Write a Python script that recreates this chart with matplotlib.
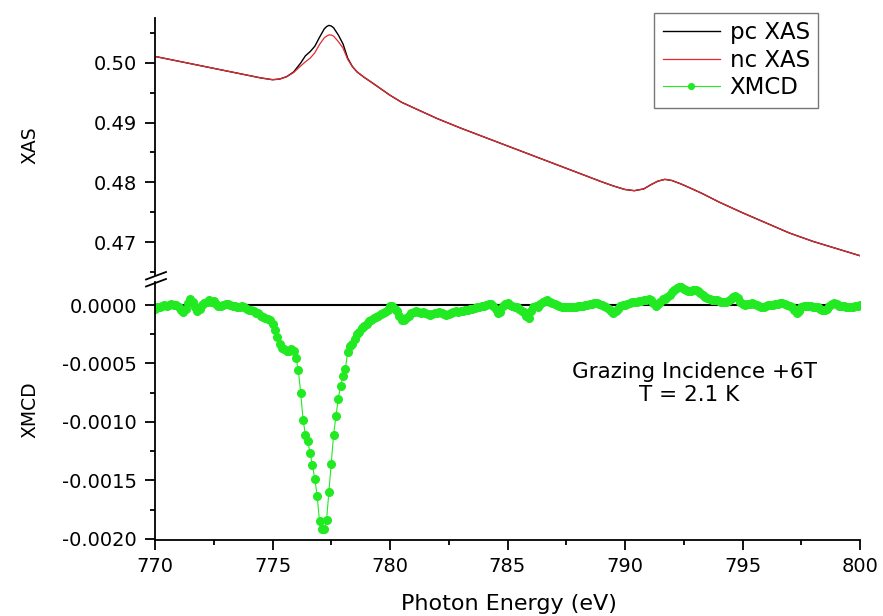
import numpy as np
import matplotlib
matplotlib.use("Agg")
import matplotlib.pyplot as plt
from matplotlib.ticker import MultipleLocator, FormatStrFormatter
from matplotlib.lines import Line2D

plt.rcParams['font.family'] = ['DejaVu Sans']
plt.rcParams['axes.unicode_minus'] = False

# XAS spectra (pc / nc circular polarisation)
e_xas = [770.0, 771.0, 772.0, 773.0, 774.0, 774.5, 775.0, 775.3, 775.6, 775.9,
         776.2, 776.4, 776.6, 776.8, 777.0, 777.2, 777.3, 777.4, 777.5, 777.6,
         777.8, 778.0, 778.2, 778.4, 778.6, 778.9, 779.2, 779.6, 780.0, 780.5,
         781.0, 782.0, 783.0, 784.0, 785.0, 786.0, 787.0, 788.0, 789.0, 789.5,
         790.0, 790.4, 790.8, 791.1, 791.4, 791.7, 792.0, 792.4, 792.8, 793.3,
         794.0, 795.0, 796.0, 797.0, 798.0, 799.0, 800.0]
pc_xas = [0.5011, 0.5003, 0.4995, 0.4987, 0.4979, 0.4975, 0.4972, 0.4973, 0.4977, 0.4985,
          0.5000, 0.5012, 0.5019, 0.5028, 0.5043, 0.5057, 0.5061, 0.5063, 0.5062, 0.5059,
          0.5047, 0.5032, 0.5008, 0.4994, 0.4985, 0.4976, 0.4968, 0.4957, 0.4946, 0.4934,
          0.4925, 0.4907, 0.4891, 0.4876, 0.4861, 0.4846, 0.4831, 0.4816, 0.4801, 0.4794,
          0.4788, 0.4786, 0.4789, 0.4796, 0.4802, 0.4805, 0.4803, 0.4797, 0.4790, 0.4781,
          0.4767, 0.4749, 0.4732, 0.4715, 0.4701, 0.4689, 0.4677]
nc_xas = [0.5011, 0.5003, 0.4995, 0.4987, 0.4979, 0.4975, 0.4972, 0.4973, 0.4977, 0.4984,
          0.4995, 0.5002, 0.5008, 0.5017, 0.5031, 0.5042, 0.5045, 0.5047, 0.5047, 0.5045,
          0.5036, 0.5025, 0.5006, 0.4994, 0.4985, 0.4976, 0.4968, 0.4957, 0.4946, 0.4934,
          0.4925, 0.4907, 0.4891, 0.4876, 0.4861, 0.4846, 0.4831, 0.4816, 0.4801, 0.4794,
          0.4788, 0.4786, 0.4789, 0.4796, 0.4802, 0.4805, 0.4803, 0.4797, 0.4790, 0.4781,
          0.4767, 0.4749, 0.4732, 0.4715, 0.4701, 0.4689, 0.4677]

# XMCD, 0.1 eV steps from 770 to 800 eV, in units of 1e-4
e_xmcd = np.round(np.arange(770.0, 800.05, 0.1), 1)
xmcd_1e4 = [
    -0.3, -0.2, -0.2, -0.1, 0.0, -0.1, 0.0, 0.1, 0.0, 0.0,
    -0.2, -0.4, -0.6, -0.3, 0.2, 0.5, 0.3, -0.2, -0.5, -0.3,
    0.0, 0.2, 0.3, 0.4, 0.3, 0.35, 0.1, -0.1, -0.1, 0.0,
    0.1, 0.1, 0.0, -0.1, -0.1, -0.2, -0.2, -0.1, -0.2, -0.3,
    -0.4, -0.4, -0.5, -0.7, -0.7, -0.9, -1.0, -1.1, -1.2, -1.3,
    -1.6, -2.1, -2.7, -3.3, -3.7, -3.8, -3.9, -3.9, -3.8, -3.9,
    -4.5, -5.6, -7.5, -9.8, -11.1, -11.6, -12.7, -13.7, -14.9, -16.3,
    -18.5, -19.2, -19.2, -18.4, -16.0, -13.6, -11.1, -9.5, -8.0, -6.9,
    -6.1, -5.5, -4.0, -3.5, -3.3, -2.9, -2.5, -2.3, -2.0, -1.8,
    -1.6, -1.4, -1.3, -1.1, -1.0, -0.9, -0.8, -0.7, -0.6, -0.4,
    -0.1, -0.1, -0.3, -0.5, -0.9, -1.3, -1.3, -1.1, -0.9, -0.7,
    -0.6, -0.5, -0.6, -0.7, -0.6, -0.7, -0.8, -0.85, -0.8, -0.7,
    -0.65, -0.6, -0.7, -0.8, -0.85, -0.8, -0.7, -0.6, -0.55, -0.6,
    -0.55, -0.5, -0.45, -0.4, -0.35, -0.3, -0.25, -0.2, -0.15, -0.1,
    -0.05, 0.0, 0.1, 0.05, -0.1, -0.3, -0.7, -0.6, -0.1, 0.1,
    0.15, 0.0, -0.1, -0.2, -0.2, -0.3, -0.5, -0.6, -0.9, -1.15,
    -0.5, -0.15, -0.1, -0.15, 0.1, 0.3, 0.35, 0.4, 0.3, 0.2,
    0.1, 0.0, -0.1, -0.2, -0.2, -0.2, -0.15, -0.2, -0.15, -0.15,
    -0.1, -0.1, -0.05, 0.0, 0.0, 0.05, 0.1, 0.15, 0.15, 0.1,
    0.0, -0.1, -0.2, -0.3, -0.5, -0.65, -0.5, -0.3, -0.1, 0.0,
    0.0, 0.1, 0.2, 0.3, 0.3, 0.3, 0.35, 0.35, 0.4, 0.45,
    0.5, 0.4, 0.2, -0.1, 0.1, 0.3, 0.5, 0.55, 0.7, 0.9,
    1.1, 1.3, 1.45, 1.55, 1.5, 1.4, 1.25, 1.2, 1.2, 1.25,
    1.3, 1.2, 1.0, 0.85, 0.7, 0.6, 0.5, 0.45, 0.4, 0.4,
    0.35, 0.3, 0.3, 0.3, 0.35, 0.5, 0.7, 0.8, 0.6, 0.3,
    0.1, 0.0, 0.05, 0.1, 0.15, 0.1, 0.0, -0.1, -0.15, -0.2,
    -0.1, 0.0, 0.0, 0.0, 0.05, 0.1, 0.15, 0.15, 0.1, 0.0,
    -0.1, -0.2, -0.4, -0.65, -0.5, -0.2, -0.1, -0.1, -0.1, -0.1,
    -0.15, -0.15, -0.2, -0.3, -0.4, -0.45, -0.3, -0.1, 0.1, 0.15,
    0.05, -0.05, -0.1, -0.1, -0.15, -0.2, -0.2, -0.15, -0.1, -0.05,
    0.0,
]
xmcd = np.array(xmcd_1e4) * 1e-4

W, H = 883, 616
fig = plt.figure(figsize=(W / 100, H / 100), dpi=100)

def px_box(x0, y0, x1, y1):
    return [x0 / W, 1 - y1 / H, (x1 - x0) / W, (y1 - y0) / H]

ax1 = fig.add_axes(px_box(155, 18, 860, 275))
ax2 = fig.add_axes(px_box(155, 282, 860, 540), sharex=ax1)

green = '#22ea22'

ax1.plot(e_xas, pc_xas, color='black', lw=1.0, label='pc XAS')
ax1.plot(e_xas, nc_xas, color='#e52a30', lw=0.9, label='nc XAS')

ax2.axhline(0, color='black', lw=1.5, zorder=1)
ax2.plot(e_xmcd, xmcd, '-o', color=green, lw=0.8, ms=5.5, mec=green,
         zorder=2, label='XMCD')

ax1.set_xlim(770, 800)
ax1.set_ylim(0.46447, 0.50754)
ax2.set_ylim(-0.00201, 0.000197)

for ax in (ax1, ax2):
    ax.spines['top'].set_visible(False)
    ax.spines['right'].set_visible(False)
    ax.spines['left'].set_linewidth(1.3)
    ax.spines['bottom'].set_linewidth(1.3)
    ax.tick_params(which='major', direction='out', length=7, width=1.3,
                   labelsize=14, pad=6)
    ax.tick_params(which='minor', direction='out', length=3.5, width=1.3)
ax1.spines['bottom'].set_visible(False)
ax1.tick_params(axis='x', which='both', bottom=False, labelbottom=False)
ax2.tick_params(axis='x', which='major', pad=5)

ax1.yaxis.set_major_locator(MultipleLocator(0.01))
ax1.yaxis.set_minor_locator(MultipleLocator(0.005))
ax1.yaxis.set_major_formatter(FormatStrFormatter('%.2f'))
ax2.yaxis.set_major_locator(MultipleLocator(0.0005))
ax2.yaxis.set_minor_locator(MultipleLocator(0.00025))
ax2.yaxis.set_major_formatter(FormatStrFormatter('%.4f'))
ax2.xaxis.set_major_locator(MultipleLocator(5))
ax2.xaxis.set_minor_locator(MultipleLocator(2.5))

fig.text(30 / W, 1 - 145 / H, 'XAS', rotation=90, ha='center', va='center',
         fontsize=13.5)
fig.text(30 / W, 1 - 410 / H, 'XMCD', rotation=90, ha='center', va='center',
         fontsize=13.5)
fig.text(509 / W, 1 - 604 / H, 'Photon Energy (eV)', ha='center',
         va='center', fontsize=16)

fig.text(695 / W, 1 - 372 / H, 'Grazing Incidence +6T', ha='center',
         va='center', fontsize=15.5)
fig.text(689 / W, 1 - 395 / H, 'T = 2.1 K', ha='center', va='center',
         fontsize=15.5)

# axis break marks on the left spine
for (x0, y0, x1, y1) in [(146, 279.5, 166, 272), (146, 286.5, 166, 279)]:
    fig.add_artist(Line2D([x0 / W, x1 / W], [1 - y0 / H, 1 - y1 / H],
                          transform=fig.transFigure, color='black', lw=1.3))

handles = ax1.get_legend_handles_labels()[0] + ax2.get_legend_handles_labels()[0]
leg = ax1.legend(handles=handles, loc='upper right',
                 bbox_to_anchor=(818 / W, 1 - 13 / H),
                 bbox_transform=fig.transFigure, fontsize=16.5, frameon=True,
                 fancybox=False, edgecolor='#555555', borderaxespad=0,
                 handlelength=2.5, handletextpad=0.42, labelspacing=0.2,
                 borderpad=0.36, numpoints=1, markerscale=0.75)
leg.get_frame().set_linewidth(1.0)

fig.savefig('out.png', dpi=100)
